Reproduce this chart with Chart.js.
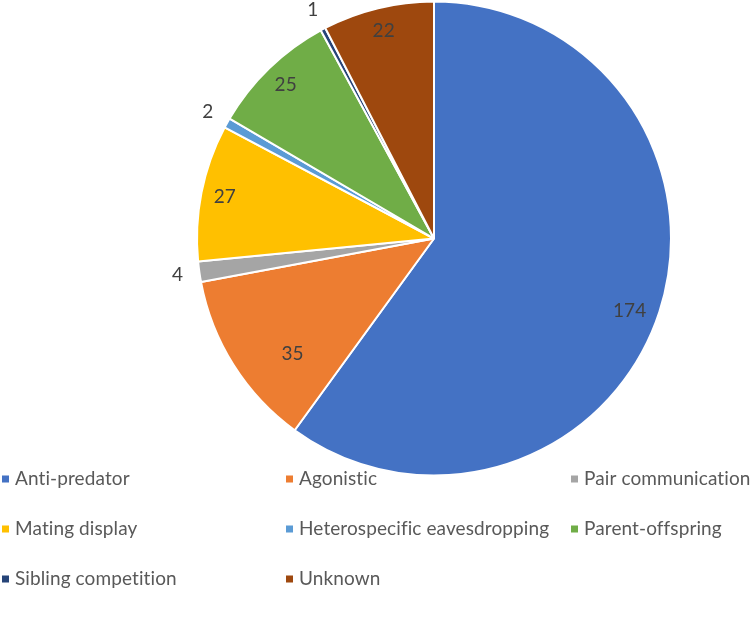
<!DOCTYPE html>
<html>
<head>
<meta charset="utf-8">
<script src="https://cdn.jsdelivr.net/npm/chart.js@4/dist/chart.umd.min.js"></script>
<style>
  html, body { margin: 0; padding: 0; background: #fff; }
  #wrap { width: 752px; height: 618px; }
</style>
</head>
<body>
<div id="wrap"><canvas id="pie"></canvas></div>
<script>
// chart data
const categories = ['Anti-predator', 'Agonistic', 'Pair communication', 'Mating display',
    'Heterospecific eavesdropping', 'Parent-offspring', 'Sibling competition', 'Unknown'];
const counts = [174, 35, 4, 27, 2, 25, 1, 22];
const colors = ['#4472C4', '#ED7D31', '#A5A5A5', '#FFC000', '#5B9BD5', '#70AD47', '#264478', '#9E480E'];

const FONT = 'Lato, "Open Sans", sans-serif';

// value labels: inside for big slices, outside for the thin ones
const valueLabels = {
    id: 'valueLabels',
    afterDatasetsDraw(chart) {
        const ctx = chart.ctx;
        const meta = chart.getDatasetMeta(0);
        const total = counts.reduce((a, b) => a + b, 0);
        ctx.save();
        ctx.font = '19px ' + FONT;
        ctx.fillStyle = '#404040';
        ctx.textAlign = 'center';
        ctx.textBaseline = 'middle';
        meta.data.forEach((arc, i) => {
            let mid = (arc.startAngle + arc.endAngle) / 2;
            const share = counts[i] / total;
            let r;
            if (share < 0.03) r = arc.outerRadius + 22;
            else if (i === 1) { r = arc.outerRadius * 0.77; mid -= 0.12; }
            else if (i === 0) { r = arc.outerRadius * 0.88; mid += 0.04; }
            else r = arc.outerRadius * 0.9;
            ctx.fillText(String(counts[i]), arc.x + Math.cos(mid) * r, arc.y + Math.sin(mid) * r);
        });
        ctx.restore();
    }
};

// three column legend under the pie
const gridLegend = {
    id: 'gridLegend',
    afterDraw(chart) {
        const ctx = chart.ctx;
        const colX = [2, 286, 571];
        const rowY = [479, 529, 579];
        ctx.save();
        ctx.font = '19px ' + FONT;
        ctx.letterSpacing = '0.1px'; // stops Lato's fi / ti ligatures
        ctx.textBaseline = 'middle';
        ctx.textAlign = 'left';
        chart.data.labels.forEach((lab, i) => {
            const x = colX[i % 3];
            const y = rowY[Math.floor(i / 3)];
            ctx.fillStyle = chart.data.datasets[0].backgroundColor[i];
            ctx.fillRect(x, y - 3.5, 7, 7);
            ctx.fillStyle = '#595959';
            ctx.fillText(lab, x + 13, y);
        });
        ctx.restore();
    }
};

new Chart(document.getElementById('pie'), {
    type: 'pie',
    data: {
        labels: categories,
        datasets: [{
            data: counts,
            backgroundColor: colors,
            borderColor: '#ffffff',
            borderWidth: 2
        }]
    },
    options: {
        responsive: true,
        maintainAspectRatio: false,
        animation: false,
        layout: { padding: { left: 196, right: 80, top: 0, bottom: 141 } },
        plugins: {
            legend: { display: false },
            tooltip: { enabled: false }
        }
    },
    plugins: [valueLabels, gridLegend]
});
</script>
</body>
</html>
